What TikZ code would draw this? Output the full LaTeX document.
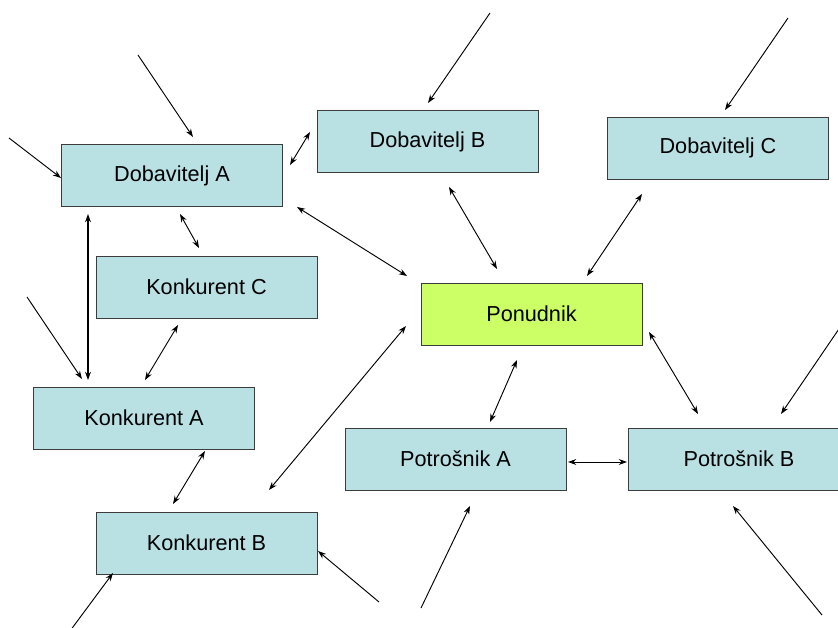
\documentclass[tikz,border=0pt]{standalone}
\usepackage{fontspec}
\setmainfont{Liberation Sans}
\usetikzlibrary{arrows.meta}
\definecolor{boxblue}{RGB}{185,224,227}
\definecolor{hubgreen}{RGB}{204,255,102}
\definecolor{edgegray}{RGB}{60,60,60}
\tikzstyle{every node}=[font=\fontsize{18.5}{22}\selectfont]
\tikzstyle{box}=[draw=edgegray, fill=boxblue, line width=0.8pt,
  minimum width=6.63cm, minimum height=1.86cm, inner sep=0pt]
\tikzstyle{hub}=[box, fill=hubgreen]
\tikzstyle{link}=[line width=0.8pt,
  {Stealth[length=7pt,width=5pt]}-{Stealth[length=7pt,width=5pt]}]
\tikzstyle{feed}=[line width=0.8pt, -{Stealth[length=7pt,width=5pt]}]

\begin{document}
\begin{tikzpicture}[x=0.03cm, y=-0.03cm]
  \useasboundingbox (0,0) rectangle (838,628);
  \clip (0,0) rectangle (838,628);

  % boxes
  \node[box] (dobA) at (172,175.5) {Dobavitelj A};
  \node[box] (dobB) at (427.5,141.5) {Dobavitelj B};
  \node[box] (dobC) at (718,148) {Dobavitelj C};
  \node[box] (konC) at (206.5,287) {Konkurent C};
  \node[hub] (pon) at (531.5,314) {Ponudnik};
  \node[box] (konA) at (144,418) {Konkurent A};
  \node[box] (potA) at (455.5,459) {Potrošnik A};
  % runs off the right edge
  \node[box, anchor=west, minimum width=8cm] (potB) at (628,459)
    {\makebox[8cm][l]{\makebox[6.63cm]{Potrošnik B}}};
  \node[box] (konB) at (206.5,543) {Konkurent B};

  % ends of the two-way links
  \coordinate (dobAtoB) at (290,165);  \coordinate (dobBtoA) at (310,132);
  \coordinate (dobAtoP) at (297,207);  \coordinate (ponToA) at (407,276);
  \coordinate (dobBtoP) at (449,187);  \coordinate (ponToB) at (497,269);
  \coordinate (dobCtoP) at (642,194);  \coordinate (ponToC) at (587,276);
  \coordinate (dobAtoKA) at (88,214);  \coordinate (konAtoDA) at (88,380);
  \coordinate (dobAtoKC) at (180,214); \coordinate (konCtoDA) at (199,248);
  \coordinate (konCtoKA) at (178,325); \coordinate (konAtoKC) at (145,380);
  \coordinate (ponToPA) at (517,360);  \coordinate (potAtoP) at (490,422);
  \coordinate (ponToPB) at (649,332);  \coordinate (potBtoP) at (698,414);
  \coordinate (potAtoPB) at (568,462); \coordinate (potBtoPA) at (627,462);
  \coordinate (konBtoP) at (269,490);  \coordinate (ponToKB) at (406,326);
  \coordinate (konAtoKB) at (205,451); \coordinate (konBtoKA) at (173,504);

  \foreach \p/\q in {dobAtoB/dobBtoA, dobAtoP/ponToA, dobBtoP/ponToB,
      dobCtoP/ponToC, dobAtoKC/konCtoDA, konCtoKA/konAtoKC,
      ponToPA/potAtoP, ponToPB/potBtoP, potAtoPB/potBtoPA,
      konBtoP/ponToKB, konAtoKB/konBtoKA}
    \draw[link] (\p) -- (\q);
  \draw[link, line width=1.1pt] (dobAtoKA) -- (konAtoDA);

  % outside influences
  \coordinate (inDA1) at (138,55);  \coordinate (atDA1) at (193,137);
  \coordinate (inDA2) at (9,138);   \coordinate (atDA2) at (61,178);
  \coordinate (inDB) at (490,13);   \coordinate (atDB) at (428,103);
  \coordinate (inDC) at (788,18);   \coordinate (atDC) at (725,110);
  \coordinate (inKA) at (27,297);   \coordinate (atKA) at (82,379);
  \coordinate (inPB1) at (843,323); \coordinate (atPB1) at (781,414);
  \coordinate (inKB1) at (70,631);  \coordinate (atKB1) at (113,573);
  \coordinate (inKB2) at (379,602); \coordinate (atKB2) at (318,551);
  \coordinate (inPA) at (421,608);  \coordinate (atPA) at (470,506);
  \coordinate (inPB2) at (822,615); \coordinate (atPB2) at (733,506);

  \foreach \s in {DA1, DA2, DB, DC, KA, PB1, KB1, KB2, PA, PB2}
    \draw[feed] (in\s) -- (at\s);
\end{tikzpicture}
\end{document}
